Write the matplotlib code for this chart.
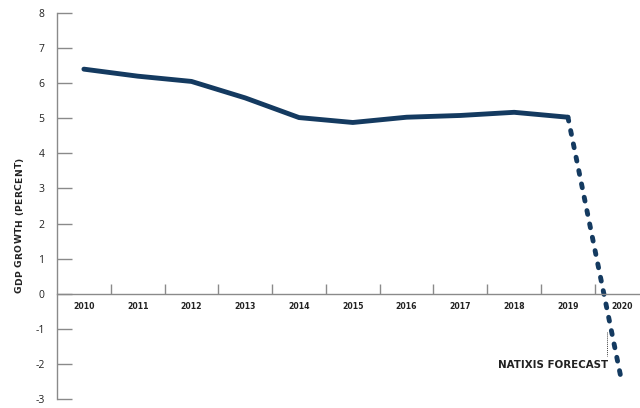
import matplotlib
matplotlib.use('Agg')
import matplotlib.pyplot as plt
from matplotlib.ticker import FixedLocator
from matplotlib.font_manager import FontProperties
from matplotlib.textpath import TextPath
from matplotlib.transforms import IdentityTransform

years = ['2010', '2011', '2012', '2013', '2014', '2015', '2016', '2017', '2018', '2019', '2020']
growth = [6.4, 6.2, 6.05, 5.58, 5.02, 4.88, 5.03, 5.08, 5.17, 5.03]
forecast = [5.03, -2.5]   # 2019 -> 2020 (Natixis forecast)

plt.rcParams['font.family'] = ['Open Sans', 'DejaVu Sans']
plt.rcParams['axes.unicode_minus'] = False
boldfont = ['DejaVu Sans']

navy = '#143a60'
grey = '#8a8a8a'


def tracked_vertical(fig, s, x, y0, size, track):
    # letter-spaced label written bottom to top (pixel coords)
    fp = FontProperties(family='DejaVu Sans', weight='bold', size=size)
    px = fig.dpi / 72.0
    def adv(t):
        # x position of a marker glyph placed after t, in pixels
        return TextPath((0, 0), t + 'I', prop=fp).get_extents().x1 * px
    base = adv('')
    for i, ch in enumerate(s):
        off = adv(s[:i]) - base
        fig.text(x, y0 + off + i * track, ch, fontproperties=fp, color='#222222',
                 rotation=90, rotation_mode='anchor', ha='left', va='baseline',
                 transform=IdentityTransform())


fig = plt.figure(figsize=(6.4, 4.08), dpi=100)
ax = fig.add_axes([57/640, 1 - 399/408, 1 - 57/640, (399 - 13)/408])

x = list(range(len(years)))
ax.plot(x[:len(growth)], growth, color=navy, lw=3.5, solid_capstyle='round',
        solid_joinstyle='round')
ax.plot(x[len(growth) - 1:], forecast, color=navy, lw=3.5,
        linestyle=(0, (0.8, 2.0)), dash_capstyle='round')

ax.set_xlim(-0.5, 10.34)
ax.set_ylim(-3, 8)

for s in ['top', 'right']:
    ax.spines[s].set_visible(False)
ax.spines['bottom'].set_position(('data', 0))
for s in ['left', 'bottom']:
    ax.spines[s].set_color(grey)
    ax.spines[s].set_linewidth(1.0)

ax.set_yticks(range(-3, 9))
ax.tick_params(axis='y', direction='in', length=11, width=1.0, color=grey,
               labelsize=7.5, pad=9, labelcolor='#222222')

ax.set_xticks(x)
ax.set_xticklabels(years, family=boldfont, fontweight='bold')
ax.xaxis.set_minor_locator(FixedLocator([i + 0.5 for i in range(10)]))
ax.tick_params(axis='x', which='major', length=0, pad=6, labelsize=5.6,
               labelcolor='#222222')
ax.tick_params(axis='x', which='minor', direction='in', length=7, width=1.0,
               color=grey)

tracked_vertical(fig, 'GDP GROWTH (PERCENT)', 22, 408 - 293, 6.6, 0.3)

ax.plot([9.72, 9.72], [-1.08, -1.77], color='#444444', lw=0.7, linestyle=(0, (1, 1)))
ax.text(9.74, -2.02, 'NATIXIS FORECAST', ha='right', va='center', family=boldfont,
        fontsize=7.4, fontweight='bold', color='#222222')

fig.savefig('out.png', dpi=100)
